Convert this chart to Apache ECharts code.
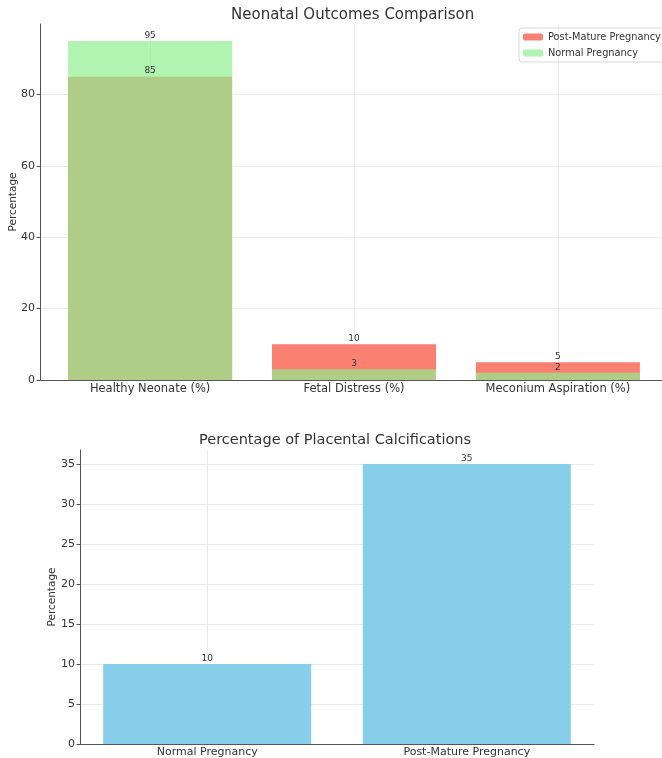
<!DOCTYPE html>
<html>
<head>
<meta charset="utf-8">
<script src="https://cdn.jsdelivr.net/npm/echarts@6/dist/echarts.min.js"></script>
<style>
  html, body { margin: 0; padding: 0; background: #fff; }
  #chart { width: 662px; height: 758px; }
</style>
</head>
<body>
<div id="chart"></div>
<script>
// Neonatal outcomes (%)
const outcomeCategories = ['Healthy Neonate (%)', 'Fetal Distress (%)', 'Meconium Aspiration (%)'];
const postMatureOutcomes = [85, 10, 5];
const normalOutcomes = [95, 3, 2];
const outcomeTicks = [0, 20, 40, 60, 80];

// Placental calcifications (%)
const calcCategories = ['Normal Pregnancy', 'Post-Mature Pregnancy'];
const calcValues = [10, 35];
const calcTicks = [0, 5, 10, 15, 20, 25, 30, 35];

const FONT = 'DejaVu Sans';
const TEXT = '#333333';
const AXIS = '#555555';
const GRIDLINE = { show: true, lineStyle: { color: '#e6e6e6', width: 0.8 } };

const toPoints = arr => arr.map((v, i) => [i, v]);

function catAxis(gridIndex, cats, min, max, fontSize) {
  const idx = cats.map((_, i) => i);
  return {
    type: 'value', gridIndex, min, max,
    axisLine: { show: true, onZero: false, lineStyle: { color: AXIS, width: 1 } },
    axisTick: { show: true, inside: true, customValues: idx, length: 3.5, lineStyle: { color: AXIS } },
    axisLabel: { customValues: idx, formatter: v => cats[Math.round(v)] || '',
                 color: TEXT, fontFamily: FONT, fontSize, margin: 3 },
    splitLine: GRIDLINE
  };
}

function valAxis(gridIndex, ticks, max, gap) {
  return {
    type: 'value', gridIndex, min: 0, max,
    name: 'Percentage', nameLocation: 'middle', nameRotate: 90, nameGap: gap,
    nameMoveOverlap: false,
    nameTextStyle: { color: TEXT, fontFamily: FONT, fontSize: 10.5 },
    axisLine: { show: true, onZero: false, lineStyle: { color: AXIS, width: 1 } },
    axisTick: { show: true, customValues: ticks, length: 3.5, lineStyle: { color: AXIS } },
    axisLabel: { customValues: ticks, color: TEXT, fontFamily: FONT, fontSize: 11, margin: 5 },
    splitLine: GRIDLINE
  };
}

const valueLabel = { show: true, position: 'top', distance: 1, color: TEXT, fontFamily: FONT, fontSize: 9 };

const chart = echarts.init(document.getElementById('chart'), null, { renderer: 'canvas' });
chart.setOption({
  animation: false,
  backgroundColor: '#ffffff',
  title: [
    { text: 'Neonatal Outcomes Comparison', left: 231, top: 8, padding: 0,
      textStyle: { color: TEXT, fontFamily: FONT, fontSize: 15, fontWeight: 'normal' } },
    { text: 'Percentage of Placental Calcifications', left: 199, top: 433, padding: 0,
      textStyle: { color: TEXT, fontFamily: FONT, fontSize: 14.5, fontWeight: 'normal' } }
  ],
  legend: {
    left: 519, top: 28, orient: 'vertical', itemGap: 6,
    itemWidth: 20, itemHeight: 7,
    borderColor: '#d8d8d8', borderWidth: 1, borderRadius: 3,
    padding: [4, 8, 4, 4],
    textStyle: { color: TEXT, fontFamily: FONT, fontSize: 9.8 },
    data: ['Post-Mature Pregnancy', 'Normal Pregnancy']
  },
  grid: [
    { left: 40, top: 24, width: 628, height: 356, outerBoundsMode: 'none', containLabel: false },
    { left: 80, top: 450, width: 514, height: 294, outerBoundsMode: 'none', containLabel: false }
  ],
  xAxis: [
    catAxis(0, outcomeCategories, -0.54, 2.54, 11.5),
    catAxis(1, calcCategories, -0.49, 1.49, 11)
  ],
  yAxis: [
    valAxis(0, outcomeTicks, 99.75, 21),
    valAxis(1, calcTicks, 36.75, 22)
  ],
  series: [
    { name: 'Post-Mature Pregnancy', type: 'bar', xAxisIndex: 0, yAxisIndex: 0,
      data: toPoints(postMatureOutcomes), barWidth: 164, barGap: '-100%',
      itemStyle: { color: '#FA8072' }, label: valueLabel },
    { name: 'Normal Pregnancy', type: 'bar', xAxisIndex: 0, yAxisIndex: 0,
      data: toPoints(normalOutcomes), barWidth: 164, barGap: '-100%',
      itemStyle: { color: 'rgba(144, 238, 144, 0.7)' }, label: valueLabel },
    { name: 'Calcifications', type: 'bar', xAxisIndex: 1, yAxisIndex: 1,
      data: toPoints(calcValues), barWidth: 208,
      itemStyle: { color: '#87CEEB' }, label: valueLabel }
  ]
});
</script>
</body>
</html>
